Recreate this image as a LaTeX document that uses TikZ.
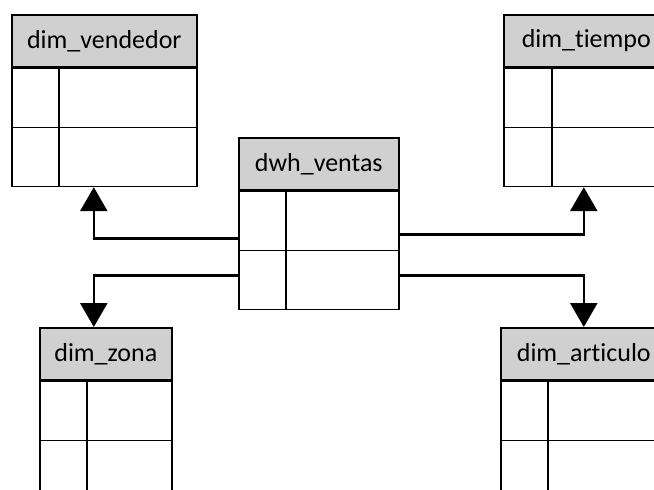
\documentclass[tikz,border=0pt]{standalone}
\usepackage{fontspec}
\setmainfont{Carlito}[Ligatures={NoCommon}]
\usepackage{xcolor}
\usepackage{tikz}
\usetikzlibrary{arrows.meta,positioning,calc}

\definecolor{hdrgray}{RGB}{208,208,208}

\begin{document}
\begin{tikzpicture}[x=1pt,y=-1pt,
	hdr/.style={draw,line width=1.6pt,fill=hdrgray,anchor=north west,
		minimum height=52pt,inner sep=0pt,font=\fontsize{26}{30}\selectfont},
	tbl/.style={draw,line width=1.6pt,fill=white,minimum height=118pt,inner sep=0pt},
	conn/.style={line width=2.6pt,-{Triangle[length=24pt,width=27pt]}}]
	\fill[white] (0,0) rectangle (654,490);
	\clip (0,0) rectangle (654,490);

	% tables: header with name, body of two rows and two columns
	\foreach \n/\x/\y/\w/\c/\t in {vend/11/14/185/48/dim\_vendedor,
		tiempo/503/14/165/49/dim\_tiempo,
		ventas/238/137/160/48/dwh\_ventas,
		zona/39/327/132/48/dim\_zona,
		articulo/500/327/166/48/dim\_articulo}{
		\node[hdr,minimum width=\w] (\n) at (\x,\y) {\t};
		\node[tbl,minimum width=\w,below=0pt of \n] (\n-b) {};
		\draw[line width=1.4pt] (\n-b.west) -- (\n-b.east);
		\draw[line width=1.4pt] ($(\n-b.north west)+(\c,0)$) -- ($(\n-b.south west)+(\c,0)$);
	}

	% links from the fact table
	\draw[conn] ([yshift=12pt]ventas-b.west) -| ([xshift=-10.5pt]vend-b.south);
	\draw[conn] ([yshift=-25pt]ventas-b.west) -| ([xshift=-12pt]zona.north);
	\draw[conn] ([yshift=16pt]ventas-b.east) -| ([xshift=-2.5pt]tiempo-b.south);
	\draw[conn] ([yshift=-25pt]ventas-b.east) -| (articulo.north);
\end{tikzpicture}
\end{document}
